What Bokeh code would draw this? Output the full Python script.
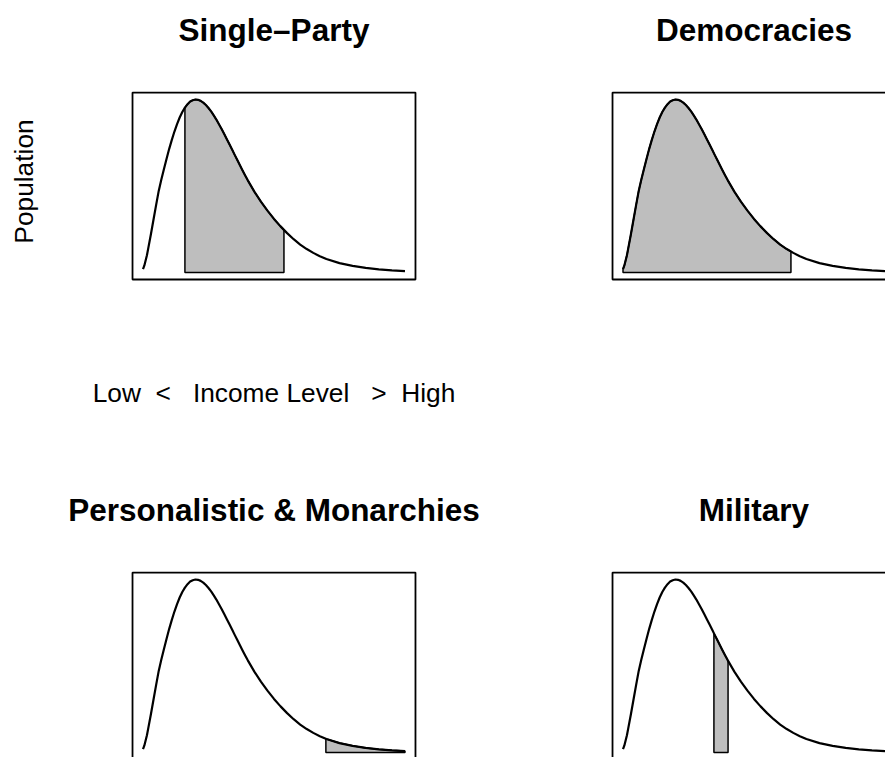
import numpy as np
from bokeh.plotting import figure
from bokeh.models import Range1d
from bokeh.layouts import column, row
from bokeh.core.properties import value
from bokeh.embed import file_html
from bokeh.resources import INLINE

# ---- data (income level 0..10, density relative to the peak) ----
income_level = [0.00, 0.05, 0.10, 0.15, 0.20, 0.30, 0.40, 0.50, 0.60, 0.70,
                0.80, 0.90, 1.00, 1.10, 1.20, 1.30, 1.40, 1.50, 1.60, 1.70,
                1.80, 1.90, 2.00, 2.10, 2.20, 2.30, 2.40, 2.50, 2.60, 2.70,
                2.80, 2.90, 3.00, 3.10, 3.20, 3.30, 3.40, 3.50, 3.60, 3.70,
                3.80, 3.90, 4.00, 4.25, 4.50, 4.75, 5.00, 5.25, 5.50, 5.75,
                6.00, 6.25, 6.50, 6.75, 7.00, 7.50, 8.00, 8.50, 9.00, 9.50, 10.0]
population_density = [0.020, 0.040, 0.070, 0.100, 0.140, 0.220, 0.305, 0.390, 0.472, 0.538,
                      0.599, 0.658, 0.715, 0.767, 0.815, 0.858, 0.896, 0.928, 0.953, 0.973,
                      0.988, 0.996, 1.000, 0.998, 0.992, 0.982, 0.968, 0.951, 0.931, 0.908,
                      0.884, 0.857, 0.830, 0.801, 0.771, 0.741, 0.711, 0.680, 0.650, 0.620,
                      0.590, 0.561, 0.533, 0.468, 0.410, 0.358, 0.310, 0.267, 0.228, 0.193,
                      0.162, 0.136, 0.114, 0.095, 0.079, 0.055, 0.039, 0.027, 0.019, 0.013, 0.009]
regimes = ["Single\u2013Party", "Democracies", "Personalistic & Monarchies", "Military"]
shade_low = [1.60, 0.00, 6.98, 3.47]
shade_high = [5.38, 6.41, 10.0, 4.01]
x_label = "Low\u00a0\u00a0<\u00a0\u00a0\u00a0Income Level\u00a0\u00a0\u00a0>\u00a0\u00a0High"
y_label = "Population"

# ---- layout (window pixels) ----
PX_X = 26.2      # pixels per income unit
PX_Y = 173.1     # pixels per density unit
X0 = 142.5       # from panel origin to income 0
Y0 = 272.1       # from panel origin to density 0
TITLE_BASE = 29.0
XLAB_BASE = 392.0
YLAB_BASE = 23.7
YLAB_CENTER = 181.0
FONT = value("Liberation Sans")

X = np.array(income_level)
Y = np.array(population_density)
xmin, xmax = X.min(), X.max()
ymin, ymax = 0.0, Y.max()
padx = 0.04 * (xmax - xmin)
pady = 0.04 * (ymax - ymin)
xmid = 0.5 * (xmin + xmax)

# (panel origin x, origin y, fig x0, x1, y0, y1) in window px
panels = [
    (0, 0, 0, 480, 0, 480),
    (480, 0, 480, 885, 0, 480),
    (0, 480, 0, 480, 480, 757),
    (480, 480, 480, 885, 480, 757),
]

figs = []
for i, (ox, oy, fx0, fx1, fy0, fy1) in enumerate(panels):
    xr = Range1d((fx0 - ox - X0) / PX_X, (fx1 - ox - X0) / PX_X)
    yr = Range1d((oy + Y0 - fy1) / PX_Y, (oy + Y0 - fy0) / PX_Y)
    p = figure(width=fx1 - fx0, height=fy1 - fy0, x_range=xr, y_range=yr,
               x_axis_location=None, y_axis_location=None,
               output_backend="svg", toolbar_location=None, min_border=0)
    p.grid.visible = False
    p.outline_line_color = None
    p.background_fill_color = "white"
    p.border_fill_color = "white"

    # shaded region
    lo, hi = shade_low[i], shade_high[i]
    inner = X[(X > lo) & (X < hi)]
    xs = np.concatenate([[lo], inner, [hi]])
    ys = np.interp(xs, X, Y)
    px = np.concatenate([[lo], xs, [hi]])
    py = np.concatenate([[0.0], ys, [0.0]])
    p.patch(px, py, fill_color="#BEBEBE", line_color="black", line_width=1.5)

    # density curve
    p.line(X, Y, line_color="black", line_width=2.2, line_join="round")

    # box
    p.quad(left=[xmin - padx], right=[xmax + padx], bottom=[ymin - pady], top=[ymax + pady],
           fill_color=None, line_color="black", line_width=1.8)

    # title
    p.text(x=[xmid], y=[(Y0 - TITLE_BASE) / PX_Y], text=[regimes[i]], text_font=FONT,
           text_font_style="bold", text_font_size="31.5px", text_align="center",
           text_baseline="alphabetic", text_color="black")

    if i == 0:
        p.text(x=[xmid], y=[(Y0 - XLAB_BASE) / PX_Y], text=[x_label], text_font=FONT,
               text_font_size="26.3px", text_align="center", text_baseline="alphabetic",
               text_color="black")
        p.text(x=[(YLAB_BASE - X0) / PX_X], y=[(Y0 - YLAB_CENTER) / PX_Y], text=[y_label],
               text_font=FONT, text_font_size="26.3px", text_align="center",
               text_baseline="alphabetic", angle=np.pi / 2, text_color="black")
    figs.append(p)

layout = column(row(figs[0], figs[1], spacing=0), row(figs[2], figs[3], spacing=0), spacing=0)
open("out.html", "w").write(file_html(layout, INLINE))
